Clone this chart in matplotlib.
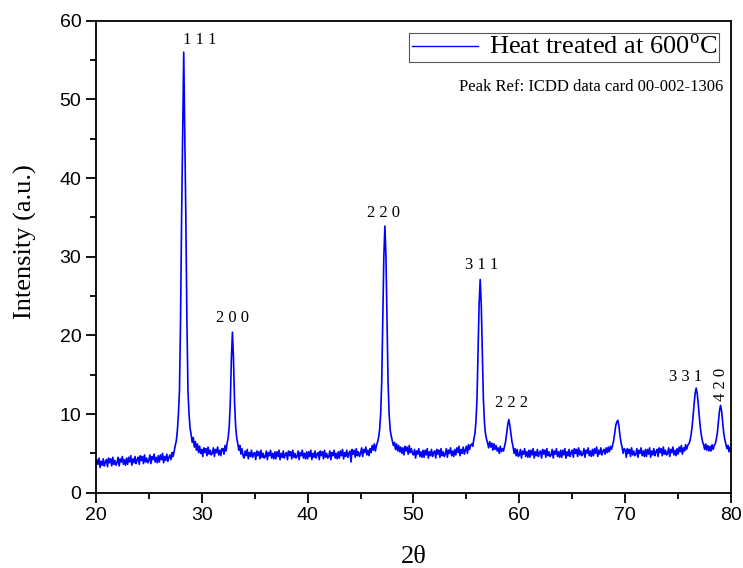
import numpy as np
import matplotlib
matplotlib.use('Agg')
import matplotlib.pyplot as plt
from matplotlib.ticker import MultipleLocator

# scan grid: 20-80 deg, 0.1 deg step
two_theta = np.round(np.arange(20.0, 80.05, 0.1), 1)

intensity = [
    3.3, 4.2, 3.6, 4.4, 3.2, 4.0, 3.5, 4.3, 3.4, 3.9,   # 20
    4.2, 3.3, 4.4, 3.8, 4.3, 3.4, 4.5, 3.6, 4.1, 3.5,   # 21
    3.8, 4.5, 3.4, 4.3, 3.9, 4.6, 3.6, 4.2, 3.5, 4.4,   # 22
    3.6, 4.5, 3.9, 4.7, 3.5, 4.3, 3.8, 4.6, 3.7, 4.2,   # 23
    4.5, 3.6, 4.7, 4.1, 4.6, 3.7, 4.8, 3.9, 4.4, 3.8,   # 24
    4.1, 4.8, 3.7, 4.6, 4.2, 4.9, 3.9, 4.5, 3.8, 4.7,   # 25
    3.9, 4.8, 4.2, 5.0, 3.8, 4.6, 4.1, 4.9, 4.0, 4.5,   # 26
    4.8, 4.2, 5.1, 4.6, 5.3, 6.0, 6.6, 7.9, 10.0, 13.0, # 27
    22.0, 35.0, 46.0, 56.0, 46.0, 35.0, 22.0, 13.0, 10.0, 8.2,  # 28
    7.4, 6.4, 7.0, 5.8, 6.5, 5.4, 6.2, 5.1, 5.9, 5.0,   # 29
    5.5, 4.6, 5.7, 5.1, 5.6, 4.7, 5.8, 4.9, 5.4, 4.8,   # 30
    5.0, 5.7, 4.6, 5.5, 5.1, 5.8, 4.8, 5.4, 4.7, 5.6,   # 31
    5.6, 4.9, 6.0, 5.3, 6.3, 7.0, 8.5, 11.5, 17.0, 20.4,  # 32
    17.0, 11.5, 8.5, 7.0, 6.3, 5.4, 6.0, 4.9, 5.6, 4.7,   # 33
    4.4, 5.3, 4.7, 5.5, 4.3, 5.1, 4.6, 5.4, 4.5, 5.0,   # 34
    5.1, 4.2, 5.3, 4.7, 5.2, 4.3, 5.4, 4.5, 5.0, 4.4,   # 35
    4.6, 5.3, 4.2, 5.1, 4.7, 5.4, 4.4, 5.0, 4.3, 5.2,   # 36
    4.3, 5.2, 4.6, 5.4, 4.2, 5.0, 4.5, 5.3, 4.4, 4.9,   # 37
    5.1, 4.2, 5.3, 4.7, 5.2, 4.3, 5.4, 4.5, 5.0, 4.4,   # 38
    4.6, 5.3, 4.2, 5.1, 4.7, 5.4, 4.4, 5.0, 4.3, 5.2,   # 39
    4.3, 5.2, 4.6, 5.4, 4.2, 5.0, 4.5, 5.3, 4.4, 4.9,   # 40
    5.1, 4.2, 5.3, 4.7, 5.2, 4.3, 5.4, 4.5, 5.0, 4.4,   # 41
    4.6, 5.3, 4.2, 5.1, 4.7, 5.4, 4.4, 5.0, 4.3, 5.2,   # 42
    4.4, 5.3, 4.7, 5.5, 4.3, 5.1, 4.6, 5.4, 4.5, 5.0,   # 43
    5.3, 3.9, 5.5, 4.9, 5.4, 4.5, 5.6, 4.7, 5.2, 4.6,   # 44
    5.0, 5.7, 4.6, 5.5, 5.1, 5.8, 4.8, 5.4, 4.7, 5.6,   # 45
    5.1, 6.0, 5.4, 6.2, 5.3, 6.0, 6.4, 7.0, 8.0, 10.0,  # 46
    14.0, 22.0, 30.0, 33.9, 30.0, 22.0, 14.0, 10.0, 8.0, 7.2,  # 47
    6.6, 6.0, 6.4, 5.5, 6.2, 5.3, 6.0, 5.2, 5.8, 5.0,   # 48
    5.7, 4.8, 5.9, 5.3, 5.8, 4.9, 6.0, 5.1, 5.6, 5.0,   # 49
    4.8, 5.5, 4.4, 5.3, 4.9, 5.6, 4.6, 5.2, 4.5, 5.4,   # 50
    4.5, 5.4, 4.8, 5.6, 4.4, 5.2, 4.7, 5.5, 4.6, 5.1,   # 51
    5.3, 4.4, 5.5, 4.9, 5.4, 4.5, 5.6, 4.7, 5.2, 4.6,   # 52
    4.9, 5.6, 4.5, 5.4, 5.0, 5.7, 4.7, 5.3, 4.6, 5.5,   # 53
    4.8, 5.7, 5.1, 5.9, 4.7, 5.5, 5.0, 5.8, 4.9, 5.4,   # 54
    5.9, 5.0, 6.1, 5.5, 6.0, 6.2, 5.9, 6.8, 7.5, 9.0,   # 55
    12.0, 18.0, 24.0, 27.1, 24.0, 18.0, 12.0, 9.0, 7.5, 6.8,  # 56
    6.3, 5.7, 6.5, 5.8, 6.3, 5.4, 6.2, 5.5, 6.0, 5.3,   # 57
    5.7, 5.0, 5.9, 5.2, 5.6, 5.3, 5.9, 6.5, 7.5, 8.6,   # 58
    9.3, 8.6, 7.5, 6.5, 5.9, 5.0, 5.6, 4.7, 5.5, 4.6,   # 59
    4.8, 5.5, 4.4, 5.3, 4.9, 5.6, 4.6, 5.2, 4.5, 5.4,   # 60
    4.5, 5.4, 4.8, 5.6, 4.4, 5.2, 4.7, 5.5, 4.6, 5.1,   # 61
    5.3, 4.4, 5.5, 4.9, 5.4, 4.5, 5.6, 4.7, 5.2, 4.6,   # 62
    4.8, 5.5, 4.4, 5.3, 4.9, 5.6, 4.6, 5.2, 4.5, 5.4,   # 63
    4.5, 5.4, 4.8, 5.6, 4.4, 5.2, 4.7, 5.5, 4.6, 5.1,   # 64
    5.4, 4.5, 5.6, 5.0, 5.5, 4.6, 5.7, 4.8, 5.3, 4.7,   # 65
    4.9, 5.6, 4.5, 5.4, 5.0, 5.7, 4.7, 5.3, 4.6, 5.5,   # 66
    4.7, 5.6, 5.0, 5.8, 4.6, 5.4, 4.9, 5.7, 4.8, 5.3,   # 67
    5.5, 4.9, 5.7, 5.1, 5.8, 5.2, 5.9, 5.5, 6.0, 6.6,   # 68
    7.5, 8.5, 9.0, 9.2, 8.5, 7.3, 6.4, 5.8, 5.0, 5.6,   # 69
    5.4, 4.5, 5.6, 5.0, 5.5, 4.6, 5.7, 4.8, 5.3, 4.7,   # 70
    4.9, 5.6, 4.5, 5.4, 5.0, 5.7, 4.7, 5.3, 4.6, 5.5,   # 71
    4.6, 5.5, 4.9, 5.7, 4.5, 5.3, 4.8, 5.6, 4.7, 5.2,   # 72
    5.5, 4.6, 5.7, 5.1, 5.6, 4.7, 5.8, 4.9, 5.4, 4.8,   # 73
    5.0, 5.7, 4.6, 5.5, 5.1, 5.8, 4.8, 5.4, 4.7, 5.6,   # 74
    4.9, 5.8, 5.2, 6.0, 4.9, 5.7, 5.3, 6.1, 5.5, 6.0,   # 75
    6.2, 6.5, 7.2, 8.2, 9.6, 11.2, 12.6, 13.3, 12.6, 11.2,  # 76
    9.6, 8.2, 7.2, 6.5, 6.1, 5.5, 6.2, 5.4, 6.0, 5.3,   # 77
    5.9, 5.3, 6.1, 5.5, 6.0, 6.2, 6.8, 7.6, 9.0, 10.4,  # 78
    11.1, 10.4, 9.0, 7.6, 6.8, 6.2, 5.6, 6.0, 5.2, 5.8, # 79
    5.4,                                                # 80
]

# (hkl) labels and where they sit
hkl_labels = ['1 1 1', '2 0 0', '2 2 0', '3 1 1', '2 2 2', '3 3 1', '4 2 0']
hkl_x = [29.85, 32.9, 47.2, 56.4, 59.3, 75.7, 79.0]
hkl_y = [57.6, 22.2, 35.5, 29.0, 11.4, 14.7, 13.7]
hkl_rot = [0, 0, 0, 0, 0, 0, 90]

plt.rcParams['mathtext.fontset'] = 'custom'
plt.rcParams['mathtext.rm'] = 'Liberation Serif'

fig = plt.figure(figsize=(7.43, 5.68), dpi=100)
ax = fig.add_axes([0.129, 0.1326, 0.855, 0.8309])

ax.plot(two_theta, intensity, color='#0000ff', lw=1.2,
        label='Heat treated at 600$^{\\rm o}$C')

for lab, x, y, r in zip(hkl_labels, hkl_x, hkl_y, hkl_rot):
    ax.text(x, y, lab, ha='center', va='center', rotation=r,
            family='Liberation Serif', fontsize=12)

ax.text(0.988, 0.86, 'Peak Ref: ICDD data card 00-002-1306',
        transform=ax.transAxes, ha='right', va='center',
        family='Liberation Serif', fontsize=12)

leg = ax.legend(loc='upper right', bbox_to_anchor=(0.99, 0.985),
                prop={'family': 'Liberation Serif', 'size': 19},
                fancybox=False, framealpha=1, edgecolor='#555555',
                handlelength=2.5, borderpad=0.1, handletextpad=0.4,
                borderaxespad=0.2)
leg.get_frame().set_linewidth(0.8)
leg.get_lines()[0].set_linewidth(1.0)

ax.set_xlim(20, 80)
ax.set_ylim(0, 60)
ax.xaxis.set_major_locator(MultipleLocator(10))
ax.xaxis.set_minor_locator(MultipleLocator(5))
ax.yaxis.set_major_locator(MultipleLocator(10))
ax.yaxis.set_minor_locator(MultipleLocator(5))
ax.tick_params(which='major', direction='out', length=7, width=1.3,
               labelsize=14, pad=3.5)
ax.tick_params(which='minor', direction='out', length=4.3, width=1.3)
for lbl in ax.get_xticklabels() + ax.get_yticklabels():
    lbl.set_family('Liberation Sans')
for s in ax.spines.values():
    s.set_linewidth(1.3)

ax.set_xlabel('2\u03b8', family='Liberation Serif', fontsize=19)
ax.set_ylabel('Intensity (a.u.)', family='Liberation Serif', fontsize=19)
ax.xaxis.set_label_coords(0.5, -0.112)
ax.yaxis.set_label_coords(-0.093, 0.533)

fig.savefig('out.png', dpi=100)
